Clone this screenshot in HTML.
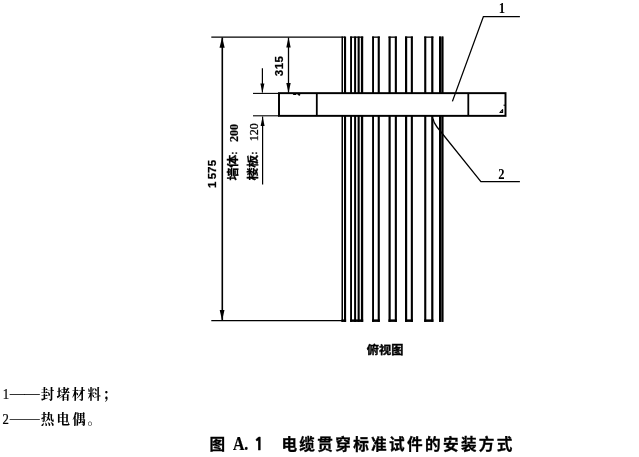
<!DOCTYPE html>
<html lang="zh-CN">
<head>
<meta charset="utf-8">
<title>图 A.1 电缆贯穿标准试件的安装方式</title>
<style>
html,body{margin:0;padding:0;background:#fff;}
body{width:639px;height:457px;overflow:hidden;position:relative;}
svg{position:absolute;left:0;top:0;display:block;filter:grayscale(100%);}
.k{fill:#000;}
.ln{stroke:#000;fill:none;}
.sans{font-family:"Liberation Sans","Noto Sans CJK SC",sans-serif;}
.serif{font-family:"Liberation Serif","Noto Serif CJK SC",serif;}
.b{font-weight:bold;}
.lg{font-weight:700;}
</style>
</head>
<body>
<svg width="639" height="457" viewBox="0 0 639 457">
  <rect x="0" y="0" width="639" height="457" fill="#fff"/>

  <!-- cables (vertical strokes) -->
  <g class="k" id="cables">
    <rect x="341.5" y="36.5" width="1.5" height="285.4"/>
    <rect x="344" y="36.5" width="2.1" height="285.4"/>

    <rect x="350.1" y="36.5" width="1.9" height="285.4"/>
    <rect x="354.1" y="36.5" width="2" height="285.4"/>
    <rect x="357.6" y="36.5" width="2.1" height="285.4"/>
    <rect x="360.9" y="36.5" width="2.3" height="285.4"/>

    <rect x="372.1" y="36.5" width="1.9" height="285.4"/>
    <rect x="377.7" y="36.5" width="2.1" height="285.4"/>

    <rect x="388.5" y="36.5" width="2.2" height="285.4"/>
    <rect x="394.8" y="36.5" width="2.1" height="285.4"/>

    <rect x="405" y="36.5" width="2.2" height="285.4"/>
    <rect x="410.8" y="36.5" width="2.1" height="285.4"/>

    <rect x="424.2" y="36.5" width="2.1" height="285.4"/>
    <rect x="431.2" y="36.5" width="2.2" height="285.4"/>

    <rect x="439" y="36.5" width="4.4" height="285.4" fill="#444"/>
    <rect x="439" y="36.5" width="2" height="285.4"/>
    <rect x="441.9" y="36.5" width="1.5" height="285.4"/>
  </g>
  <!-- cable end caps -->
  <g class="k" id="caps">
    <rect x="350.1" y="36.5" width="13.1" height="1.3"/>
    <rect x="372.1" y="36.5" width="7.7" height="1.3"/>
    <rect x="388.5" y="36.5" width="8.4" height="1.3"/>
    <rect x="405" y="36.5" width="7.9" height="1.3"/>
    <rect x="424.2" y="36.5" width="9.2" height="1.3"/>
    <rect x="350.1" y="319.4" width="13.1" height="2.5"/>
    <rect x="372.1" y="319.4" width="7.7" height="2.5"/>
    <rect x="388.5" y="319.4" width="8.4" height="2.5"/>
    <rect x="405" y="319.4" width="7.9" height="2.5"/>
    <rect x="424.2" y="319.4" width="9.2" height="2.5"/>
    <rect x="341.5" y="319.4" width="4.6" height="2.5"/>
  </g>

  <!-- wall / slab -->
  <rect x="279" y="93.15" width="226.5" height="22.7" fill="#fff" stroke="#000" stroke-width="1.95"/>
  <path class="k" d="M292.8 94 L296.6 94 L296 95 L293.4 95 Z M297 94 L300.3 94 L300 95.8 L298.6 95.6 Z"/>
  <line class="ln" x1="316.8" y1="93.4" x2="316.8" y2="115.8" stroke-width="1.8"/>
  <line class="ln" x1="468.3" y1="93.4" x2="468.3" y2="115.8" stroke-width="1.8"/>
  <path d="M499.9 112.5 L502.6 112.5 L502.6 109.6 Z" fill="#ddd" stroke="#000" stroke-width="1.1" stroke-linejoin="round"/>
  <rect class="k" x="503.6" y="104.6" width="1.2" height="1.3"/>

  <!-- extension lines -->
  <line class="ln" x1="211.3" y1="37.1" x2="345" y2="37.1" stroke-width="1.2" stroke="#333"/>
  <line class="ln" x1="211.3" y1="320.6" x2="345" y2="320.6" stroke-width="1.2" stroke="#333"/>
  <line class="ln" x1="253" y1="93.4" x2="279" y2="93.4" stroke-width="1.1"/>
  <line class="ln" x1="253" y1="115.8" x2="279" y2="115.8" stroke-width="1.1"/>

  <!-- dimension 1575 -->
  <line class="ln" x1="222.3" y1="37.6" x2="222.3" y2="320" stroke-width="1.6"/>
  <path class="k" d="M222.1 37.3 L224.7 47.8 L219.5 47.8 Z"/>
  <path class="k" d="M222.1 320.4 L224.5 310 L219.7 310 Z"/>

  <!-- dimension 315 -->
  <line class="ln" x1="288.5" y1="37.6" x2="288.5" y2="92.6" stroke-width="1.3"/>
  <path class="k" d="M288.5 37.3 L290.7 47.5 L286.3 47.5 Z"/>
  <path class="k" d="M288.5 93 L290.7 83 L286.3 83 Z"/>

  <!-- thickness arrows -->
  <line class="ln" x1="262.4" y1="68.2" x2="262.4" y2="92.6" stroke-width="1.2"/>
  <path class="k" d="M262.4 93 L264.4 83.5 L260.4 83.5 Z"/>
  <line class="ln" x1="262.6" y1="116.6" x2="262.6" y2="184.5" stroke-width="1.2"/>
  <path class="k" d="M262.6 116.4 L264.6 126 L260.6 126 Z"/>

  <!-- leaders -->
  <polyline class="ln" points="519.9,16.6 483.4,16.6 452.4,101.4" stroke-width="1.3"/>
  <path class="ln" d="M519.9 181.6 L480.9 181.6 L437 127 Q433.5 122.5 433 118.5" stroke-width="1.3"/>

  <!-- labels -->
  <text class="serif b" transform="translate(502 12.9) scale(0.85 1)" font-size="14.8" text-anchor="middle">1</text>
  <text class="serif b" transform="translate(501.5 178.6) scale(0.85 1)" font-size="14.8" text-anchor="middle">2</text>

  <text class="sans b" transform="translate(215.6 187.9) rotate(-90)" font-size="11.5" stroke="#000" stroke-width="0.25"><tspan x="0 8.6 15 21.6">1575</tspan></text>
  <text class="sans b" transform="translate(283.3 76.2) rotate(-90)" font-size="11.5" textLength="20.2" lengthAdjust="spacing" stroke="#000" stroke-width="0.25">315</text>
  <text class="sans b" transform="translate(236.5 180.5) rotate(-90) scale(1 0.85)" font-size="13" stroke="#000" stroke-width="0.3"><tspan x="0 12.8">墙体</tspan><tspan x="25.7" font-size="10">:</tspan></text>
  <text class="serif b" transform="translate(237.5 142) rotate(-90)" font-size="12.1" stroke="#000" stroke-width="0.2">200</text>
  <text class="sans b" transform="translate(257 180.5) rotate(-90) scale(1 0.85)" font-size="13" stroke="#000" stroke-width="0.3"><tspan x="0 12.8">楼板</tspan><tspan x="25.7" font-size="10">:</tspan></text>
  <text class="serif" transform="translate(257.9 141.2) rotate(-90)" font-size="12" stroke="#000" stroke-width="0.25">120</text>

  <text class="sans b" transform="translate(385.1 353.5) scale(1 0.93)" font-size="12.2" text-anchor="middle" stroke="#000" stroke-width="0.4">俯视图</text>

  <text class="serif" transform="translate(2.7 398.9) scale(0.88 1)" font-size="14.4" stroke="#000" stroke-width="0.25">1</text>
  <text class="serif" x="10" y="397" font-size="13.5" textLength="29.4" lengthAdjust="spacingAndGlyphs" stroke="#000" stroke-width="0.3">——</text>
  <text class="serif lg" y="399.2" font-size="13.5" x="40.8 56.5 71.8 87.4 102.8">封堵材料；</text>
  <text class="serif" transform="translate(2.4 423.5) scale(0.88 1)" font-size="14.4" stroke="#000" stroke-width="0.25">2</text>
  <text class="serif" x="10" y="421.7" font-size="13.5" textLength="29.4" lengthAdjust="spacingAndGlyphs" stroke="#444" stroke-width="0.4" fill="#444">——</text>
  <text class="serif lg" y="424.4" font-size="13.5" x="40.8 56.5 72.3 87.4">热电偶。</text>

  <text class="sans b" x="209.4" y="449.8" font-size="15.6" stroke="#000" stroke-width="0.3">图</text>
  <text class="serif b" transform="translate(232.9 450) scale(0.87 1)" font-size="18.2" stroke="#000" stroke-width="0.2">A.</text>
  <text class="b" x="253.8" y="450" font-size="17" stroke="#000" stroke-width="0.6" style="font-family:'NanumGothic','Liberation Sans',sans-serif">1</text>
  <text class="sans b" y="449.8" font-size="15.6" stroke="#000" stroke-width="0.3" x="281.4 299.3 317.3 335.2 353.2 371.1 389.1 407.0 425.0 442.9 460.9 478.8 496.8">电缆贯穿标准试件的安装方式</text>
</svg>
</body>
</html>
